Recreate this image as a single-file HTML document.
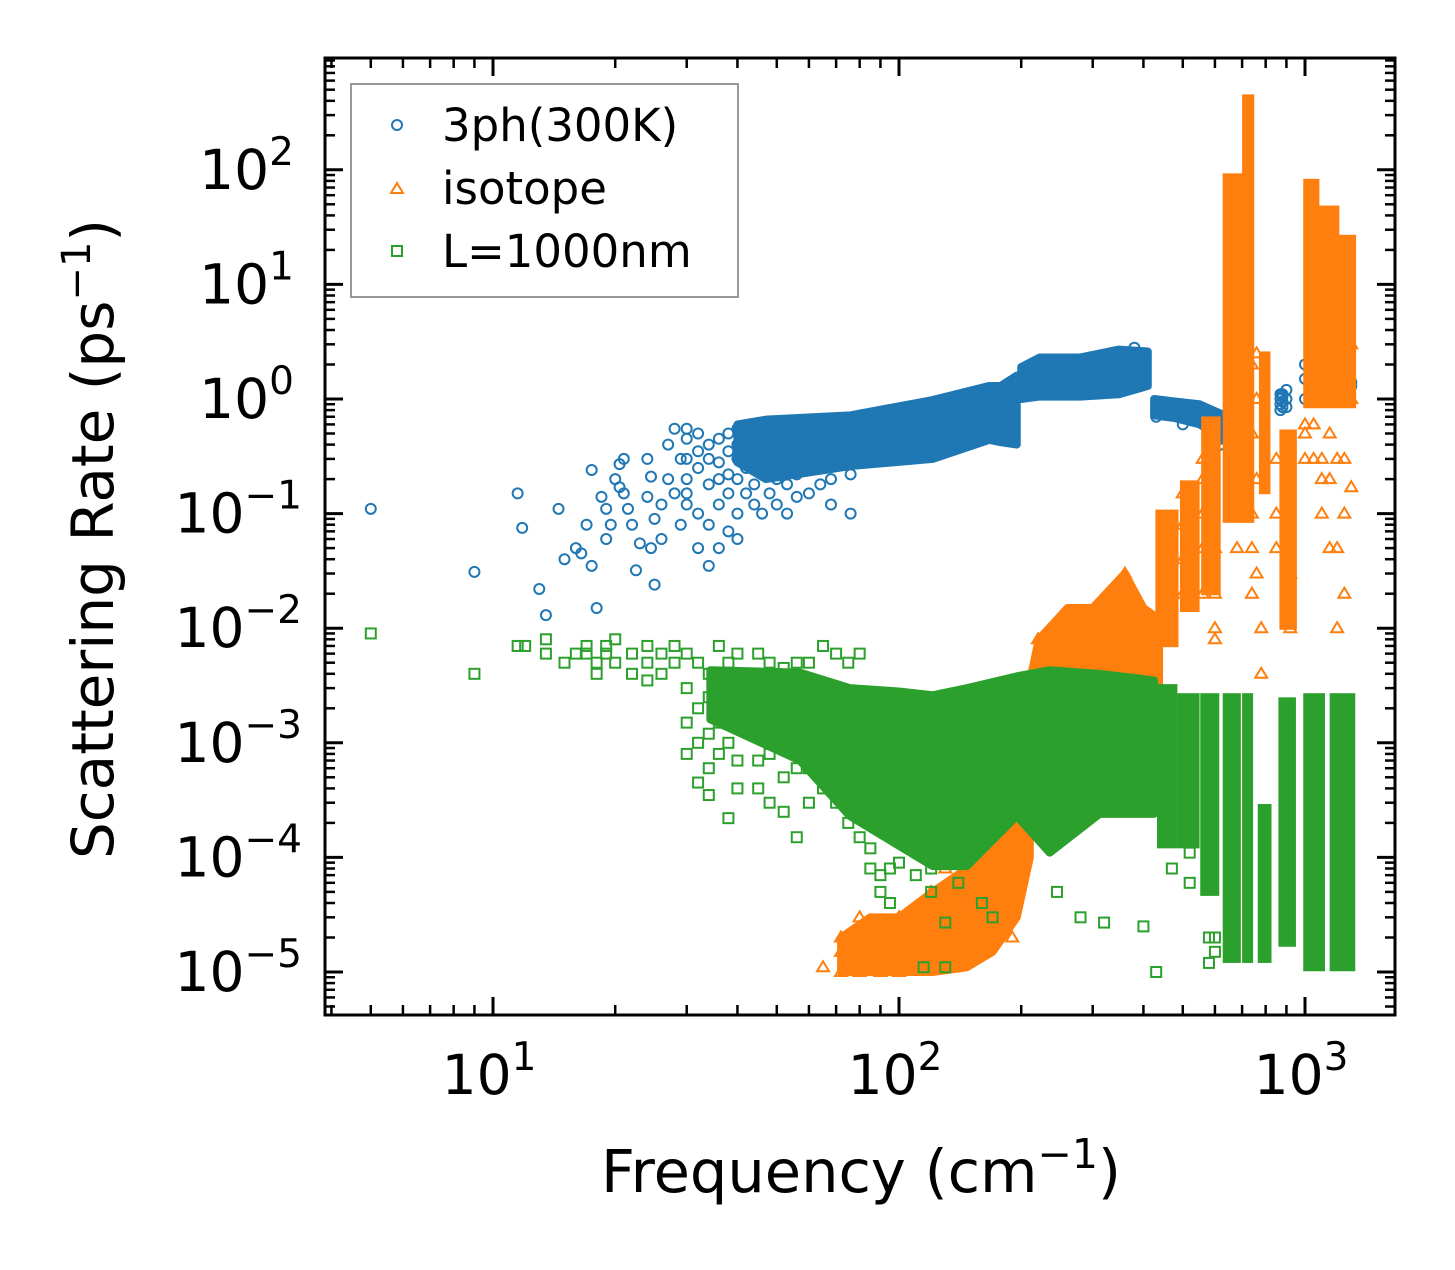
<!DOCTYPE html>
<html><head><meta charset="utf-8"><style>
html,body{margin:0;padding:0;background:#fff;}
svg text{font-family:"DejaVu Sans","Liberation Sans",sans-serif;fill:#000;}
</style></head><body>
<svg id="chart" width="1455" height="1265" viewBox="0 0 1455 1265" xmlns="http://www.w3.org/2000/svg">
<rect width="1455" height="1265" fill="#fff"/>
<g id="marks"></g>
<g id="axes"></g>
<g id="legend">
<rect x="351" y="84" width="387" height="213" fill="#fff" fill-opacity="0.8" stroke="#999" stroke-width="2"/>
<circle cx="397" cy="125" r="5" fill="none" stroke="#1f77b4" stroke-width="2"/>
<text x="442" y="141" font-size="45">3ph(300K)</text>
<polygon points="397,183 403,193 391,193" fill="none" stroke="#ff7f0e" stroke-width="2"/>
<text x="442" y="204" font-size="45">isotope</text>
<rect x="392" y="246" width="10" height="10" fill="none" stroke="#2ca02c" stroke-width="2"/>
<text x="442" y="267" font-size="45">L=1000nm</text>
</g>
<text x="861" y="1192" font-size="59" text-anchor="middle">Frequency (cm<tspan font-size="41" dy="-24">−1</tspan><tspan dy="24">)</tspan></text>
<text transform="translate(113,539) rotate(-90)" font-size="58" text-anchor="middle">Scattering Rate (ps<tspan font-size="40" dy="-23">−1</tspan><tspan dy="23">)</tspan></text>
</svg>
<script>
// ---- dense-region envelopes (frequency, upper rate, lower rate) ----
const blueBandF   = [40, 47, 76, 121, 167, 178, 195];
const blueBandHi  = [0.6, 0.66, 0.72, 0.98, 1.3, 1.3, 1.6];
const blueBandLo  = [0.28, 0.2, 0.26, 0.3, 0.44, 0.42, 0.4];
const blueBand2F  = [200, 222, 279, 348, 410];
const blueBand2Hi = [1.9, 2.3, 2.3, 2.7, 2.6];
const blueBand2Lo = [1.0, 1.05, 1.05, 1.1, 1.3];
const blueBand3F  = [425, 480, 550, 645];
const blueBand3Hi = [1.0, 0.95, 0.9, 0.7];
const blueBand3Lo = [0.72, 0.68, 0.6, 0.42];

const isoLowF  = [72, 85, 100, 121, 147, 170, 195, 210];
const isoLowHi = [2e-5, 3e-5, 3e-5, 5e-5, 8e-5, 1.2e-4, 2e-4, 1e-3];
const isoLowLo = [1e-5, 1e-5, 1e-5, 1e-5, 1.1e-5, 1.5e-5, 3e-5, 1e-4];
const isoMidF  = [200, 221, 260, 300, 360, 400, 437];
const isoMidHi = [1.5e-3, 8e-3, 1.5e-2, 1.5e-2, 3e-2, 1.5e-2, 1.2e-2];
const isoMidLo = [1e-4, 1e-3, 2e-3, 2e-3, 2e-3, 3e-3, 3e-3];
// vertical strips: start freq, end freq, low rate, high rate
const isoStripF1 = [428, 492, 555, 627, 700, 770, 865, 990, 1080, 1210];
const isoStripF2 = [488, 550, 620, 705, 750, 822, 955, 1085, 1215, 1336];
const isoStripLo = [0.0074, 0.015, 0.021, 0.09, 0.09, 0.16, 0.0105, 0.9, 0.9, 0.9];
const isoStripHi = [0.1, 0.18, 0.65, 86, 420, 2.4, 0.5, 77, 45, 25];

const bndBandF  = [34.3, 57, 75.6, 100.5, 121, 147, 195, 235, 312, 425];
const bndBandHi = [4.3e-3, 4.1e-3, 3e-3, 2.8e-3, 2.6e-3, 3e-3, 3.8e-3, 4.3e-3, 4e-3, 3.5e-3];
const bndBandLo = [1.6e-3, 7e-4, 2.3e-4, 1.25e-4, 8.4e-5, 8.4e-5, 2.3e-4, 1.1e-4, 2.4e-4, 2.4e-4];
const bndStripF1 = [432, 485, 552, 627, 700, 765, 860, 990, 1150];
const bndStripF2 = [485, 550, 615, 695, 745, 827, 950, 1120, 1330];
const bndStripLo = [1.3e-4, 1.3e-4, 5e-5, 1.3e-5, 1.3e-5, 1.3e-5, 1.8e-5, 1.1e-5, 1.1e-5];
const bndStripHi = [3e-3, 2.5e-3, 2.5e-3, 2.5e-3, 2.5e-3, 2.7e-4, 2.3e-3, 2.5e-3, 2.5e-3];

// ---- individual points: [frequency, [rates...]] ----
const phonon3ph = [
[5,[0.11]],[9,[0.031]],[11.5,[0.15]],[11.8,[0.075]],[13,[0.022]],[13.5,[0.013]],[14.5,[0.11]],[15,[0.04]],[16,[0.05]],[16.5,[0.045]],[17,[0.08]],[17.5,[0.24,0.035]],[18,[0.015]],[18.5,[0.14]],[19,[0.11,0.06]],[19.5,[0.08]],[20,[0.2]],[20.5,[0.27,0.17]],[21,[0.3,0.15]],[21.5,[0.11]],[22,[0.08]],[22.5,[0.032]],[23,[0.055]],[24,[0.3,0.14]],[24.5,[0.21,0.05]],[25,[0.024,0.09]],[26,[0.12,0.06]],[27,[0.4,0.2]],[28,[0.55,0.15]],[29,[0.08,0.3]],
[30,[0.55,0.3,0.45,0.2,0.12,0.15]],[32,[0.35,0.5,0.25,0.1,0.05]],[34,[0.4,0.3,0.18,0.08,0.035]],[36,[0.45,0.28,0.2,0.12,0.05]],[38,[0.5,0.35,0.22,0.15,0.07]],[40,[0.55,0.4,0.3,0.2,0.1,0.06]],[42,[0.5,0.35,0.25,0.15]],[44,[0.45,0.38,0.28,0.18,0.12]],[46,[0.5,0.4,0.3,0.22,0.1]],[48,[0.48,0.35,0.25,0.15]],[50,[0.5,0.4,0.3,0.2,0.12]],[53,[0.45,0.35,0.28,0.18,0.1]],[56,[0.5,0.4,0.3,0.22,0.14]],[60,[0.55,0.42,0.32,0.25,0.15]],[64,[0.5,0.4,0.33,0.26,0.18]],[68,[0.48,0.4,0.3,0.2,0.12]],[72,[0.5,0.42,0.35,0.28]],[76,[0.45,0.38,0.3,0.22,0.1]],[80,[0.5,0.42,0.35,0.3]],[85,[0.52,0.45,0.38,0.3]],[90,[0.55,0.46,0.4,0.32]],[95,[0.55,0.48,0.4,0.34]],[100,[0.58,0.5,0.42,0.35]],[110,[0.65,0.55,0.45,0.35]],[120,[0.8,0.65,0.55,0.42,0.32]],[130,[0.9,0.7,0.6,0.5,0.4]],[140,[0.95,0.8,0.65,0.5,0.4]],[160,[1,0.8,0.65,0.5]],[180,[1.2,0.9,0.7,0.55]],[220,[2,1.7,1.4,1.2]],[280,[2.2,1.7,1.4,1.1]],[340,[2.2,1.9,1.6]],[380,[2.8,2.4,2]],[430,[0.9,0.8,0.7]],[500,[0.8,0.7,0.6]],[580,[0.7,0.6,0.5]],[620,[0.5,0.45,0.4]],[660,[0.6,0.5,0.3,0.25]],[700,[0.55,0.4,0.3,0.2,0.22,0.24]],[706,[0.2,0.22]],[870,[1.1,1,0.9,0.8]],[880,[1.05,0.95,0.85,1.1]],[900,[1.2,1,0.85]],[1000,[2,1.5,1]],[1050,[2.5,2.2,1.7]],[1100,[2.2,1.8,1.5,1.2]],[1200,[1.8,1.5,1.2]],[1250,[1.5,1.3,1.2]],[1300,[1.4,1.3]]
];
const isotope = [
[65,[1.1e-5]],[72,[1e-5,1.5e-5,2e-5]],[80,[1e-5,1.6e-5,2.2e-5,3e-5]],[90,[1e-5,1.5e-5,2.8e-5]],[100,[1e-5,1.6e-5,3e-5]],[110,[1.1e-5,2.2e-5,3.5e-5]],[120,[1.3e-5,3e-5,5e-5]],[130,[2e-5,5e-5,8e-5]],[150,[3e-5,8e-5,1.1e-4]],[170,[5e-5,1.2e-4,2e-4]],[190,[2e-5,8e-5,1.5e-4]],[220,[1e-3,2e-3,8e-3]],[250,[3e-3,1.2e-2]],[300,[5e-3,1.2e-2]],[360,[1e-2,3e-2]],[460,[1e-2,2e-2,5e-2,8e-2]],[500,[2e-2,4e-2,8e-2,1.5e-1]],[560,[2e-2,5e-2,1e-1,2e-1,3e-1]],[600,[8e-3,1e-2,2e-2,5e-2]],[680,[0.05,0.2,1,5]],[740,[0.02,0.05,0.1,0.5,2]],[760,[0.03,0.2,1,2.5]],[780,[0.01,0.004]],[850,[0.05,0.1,0.3]],[920,[0.01,0.03]],[1000,[0.3,0.5,0.6]],[1050,[0.3,0.6]],[1100,[0.1,0.2,0.3]],[1150,[0.05,0.2,0.5]],[1200,[0.05,0.3,0.01]],[1250,[0.02,0.1,0.3]],[1300,[0.17,1,3]]
];
const boundary = [
[5,[9e-3]],[9,[4e-3]],[11.5,[7e-3]],[12,[7e-3]],[13.5,[8e-3,6e-3]],[15,[5e-3]],[16,[6e-3]],[17,[6e-3,7e-3]],[18,[5e-3,4e-3]],[19,[6e-3,7e-3]],[20,[8e-3,5e-3]],[22,[6e-3,4e-3]],[24,[5e-3,3.5e-3,7e-3]],[26,[6e-3,4e-3]],[28,[5e-3,7e-3]],[30,[6e-3,3e-3,1.5e-3,8e-4]],[32,[5e-3,2e-3,1e-3,4.5e-4]],[34,[4e-3,2.5e-3,1.2e-3,6e-4,3.5e-4]],[36,[7e-3,3e-3,1.5e-3,8e-4]],[38,[5e-3,2e-3,1e-3,2.2e-4]],[40,[6e-3,3e-3,1.5e-3,7e-4,4e-4]],
[45,[6e-3,1.2e-3,7e-4,4e-4]],[48,[5e-3,8e-4,3e-4]],[52,[4.5e-3,5e-4,2.5e-4]],[56,[5e-3,6e-4,1.5e-4]],[60,[5e-3,6e-4,3e-4]],[65,[7e-3,4e-4]],[70,[6e-3,3e-4]],[75,[5e-3,2e-4]],[80,[6e-3,1.5e-4]],[85,[1.2e-4,8e-5]],[90,[7e-5,5e-5]],[95,[8e-5,4e-5]],[100,[9e-5]],[110,[7e-5]],[115,[1.1e-5]],[120,[8e-5,5e-5]],[130,[1.1e-5,2.7e-5]],[140,[6e-5]],[160,[4e-5]],[170,[3e-5]],[245,[5e-5]],[280,[3e-5]],[320,[2.7e-5]],[400,[2.5e-5]],[430,[1e-5]],[470,[8e-5]],[520,[1.1e-4,6e-5]],[580,[2e-5,1.2e-5]],[600,[2e-5,1.5e-5]]
];
const xTickExps = [1,2,3];
const yTickExps = [2,1,0,-1,-2,-3,-4,-5];

const NS='http://www.w3.org/2000/svg';
const L=325,R=1395,T=58,B=1015;
const xs=f=>493+406*(Math.log10(f)-1);
const ys=v=>399-114.6*Math.log10(v);
const marks=document.getElementById('marks');
const axes=document.getElementById('axes');
function mk(tag,attrs,parent){const e=document.createElementNS(NS,tag);for(const k in attrs)e.setAttribute(k,attrs[k]);parent.appendChild(e);return e;}

function band(F,Hi,Lo,color,name){
  const top=F.map((f,i)=>`${xs(f)},${ys(Hi[i])}`);
  const bot=F.map((f,i)=>`${xs(f)},${ys(Lo[i])}`).reverse();
  const e=mk('polygon',{points:top.concat(bot).join(' '),fill:color,stroke:color,'stroke-width':8,'stroke-linejoin':'round'},marks);
  
  
}
function strips(F1,F2,Lo,Hi,color,name){
  F1.forEach((f,i)=>{
    const x1=xs(f),x2=xs(F2[i]),y1=ys(Hi[i]),y2=ys(Lo[i]);
    const e=mk('rect',{x:x1,y:y1-4,width:x2-x1,height:y2-y1+8,fill:color},marks);
    
    
  });
}

band(blueBandF,blueBandHi,blueBandLo,'#1f77b4','band-3ph');
band(blueBand2F,blueBand2Hi,blueBand2Lo,'#1f77b4','band-3ph');
band(blueBand3F,blueBand3Hi,blueBand3Lo,'#1f77b4','band-3ph');
phonon3ph.forEach(([f,rs])=>rs.forEach(v=>{
  const e=mk('circle',{cx:xs(f),cy:ys(v),r:5,fill:'none',stroke:'#1f77b4','stroke-width':2},marks);
  
  
}));
band(isoLowF,isoLowHi,isoLowLo,'#ff7f0e','band-isotope');
band(isoMidF,isoMidHi,isoMidLo,'#ff7f0e','band-isotope');
strips(isoStripF1,isoStripF2,isoStripLo,isoStripHi,'#ff7f0e','strip-isotope');
isotope.forEach(([f,rs])=>rs.forEach(v=>{
  const x=xs(f),y=ys(v);
  const e=mk('polygon',{points:`${x},${y-6} ${x+6},${y+4} ${x-6},${y+4}`,fill:'none',stroke:'#ff7f0e','stroke-width':2},marks);
  
  
}));
band(bndBandF,bndBandHi,bndBandLo,'#2ca02c','band-boundary');
strips(bndStripF1,bndStripF2,bndStripLo,bndStripHi,'#2ca02c','strip-boundary');
boundary.forEach(([f,rs])=>rs.forEach(v=>{
  const e=mk('rect',{x:xs(f)-5,y:ys(v)-5,width:10,height:10,fill:'none',stroke:'#2ca02c','stroke-width':2},marks);
  
  
}));

const fr=mk('rect',{x:L,y:T,width:R-L,height:B-T,fill:'none',stroke:'#000','stroke-width':3},axes);


for(let d=0;d<=3;d++){for(let m=1;m<=9;m++){const f=m*Math.pow(10,d);const x=xs(f);if(x<L||x>R)continue;const len=m===1?18:10;
  const t1=mk('line',{x1:x,y1:B,x2:x,y2:B-len,stroke:'#000','stroke-width':m===1?3:2.5},axes);
  
  
  mk('line',{x1:x,y1:T,x2:x,y2:T+len,stroke:'#000','stroke-width':m===1?3:2.5},axes);}}
for(let d=-6;d<=2;d++){for(let m=1;m<=9;m++){const v=m*Math.pow(10,d);const y=ys(v);if(y<T||y>B)continue;const len=m===1?18:10;
  const t1=mk('line',{x1:L,y1:y,x2:L+len,y2:y,stroke:'#000','stroke-width':m===1?3:2.5},axes);
  
  
  mk('line',{x1:R,y1:y,x2:R-len,y2:y,stroke:'#000','stroke-width':m===1?3:2.5},axes);}}
xTickExps.forEach(p=>{
  const t=mk('text',{x:xs(Math.pow(10,p))-4,y:1094,'font-size':55,'text-anchor':'middle'},axes);
  
  
  t.innerHTML=`10<tspan font-size="39" dy="-24">${p}</tspan>`;
});
yTickExps.forEach(p=>{
  const t=mk('text',{x:p<0?302:294,y:ys(Math.pow(10,p))+19,'font-size':55,'text-anchor':'end'},axes);
  
  
  t.innerHTML=`10<tspan font-size="39" dy="-24">${p<0?'−'+(-p):p}</tspan>`;
});
</script>
</body></html>
